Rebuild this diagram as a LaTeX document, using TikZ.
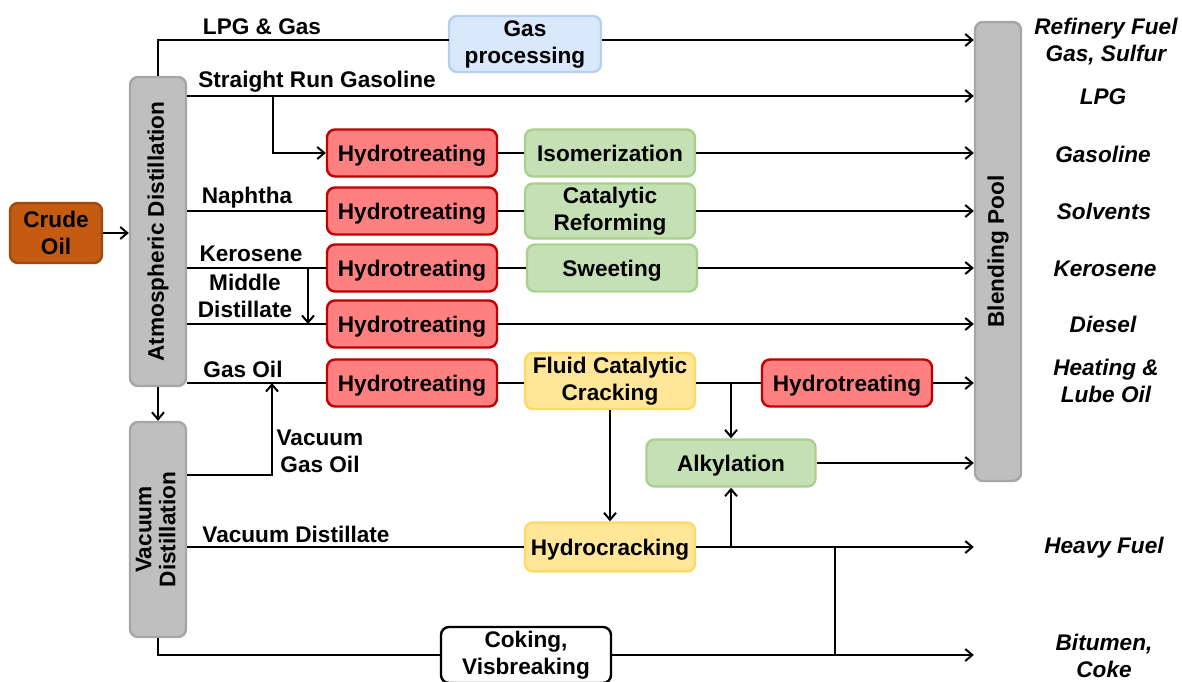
\documentclass[tikz,border=0pt]{standalone}
\usepackage{fontspec}
\setmainfont{Liberation Sans}
\usetikzlibrary{arrows.meta}
\definecolor{crudeF}{HTML}{C55A11}
\definecolor{crudeD}{HTML}{9C4A12}
\definecolor{grayF}{HTML}{BFBFBF}
\definecolor{grayD}{HTML}{A6A6A6}
\definecolor{blueF}{HTML}{DAE8FC}
\definecolor{blueD}{HTML}{B7D0EE}
\definecolor{redF}{HTML}{FF8080}
\definecolor{redD}{HTML}{C00000}
\definecolor{greenF}{HTML}{C5E0B4}
\definecolor{greenD}{HTML}{A9D18E}
\definecolor{yelF}{HTML}{FFE699}
\definecolor{yelD}{HTML}{FFD966}
\tikzset{
  base/.style={font=\fontsize{11.3}{13.5}\selectfont\bfseries, align=center, inner sep=0pt},
  box/.style={base, rounded corners=4pt, line width=1.2pt, minimum width=85pt, minimum height=23.5pt},
  oneline/.style={text height=8.1pt, text depth=0pt},
  crudebox/.style={box, fill=crudeF, draw=crudeD, minimum width=46pt, minimum height=30pt},
  column/.style={box, fill=grayF, draw=grayD, minimum width=28pt},
  gasbox/.style={box, fill=blueF, draw=blueD, minimum width=76pt, minimum height=28pt},
  htbox/.style={box, oneline, fill=redF, draw=redD},
  grbox/.style={box, fill=greenF, draw=greenD},
  ylbox/.style={box, fill=yelF, draw=yelD},
  wbox/.style={box, fill=white, draw=black},
  lbl/.style={base},
  prod/.style={base, font=\fontsize{11.3}{13.5}\selectfont\bfseries\itshape},
  flow/.style={line width=1pt, draw=black},
  arr/.style={flow, -{Straight Barb[length=3.5pt,width=6pt,line width=1pt]}}
}
\begin{document}
\begin{tikzpicture}[x=0.5pt,y=-0.5pt]
\useasboundingbox (0,0) rectangle (1182,681);
% units: 1 = 1 px of the reference
\node[crudebox] (crude) at (56,233) {Crude\\Oil};
\node[column, minimum height=154.5pt] (atm) at (158,231.5) {\rotatebox{90}{Atmospheric Distillation}};
\node[column, minimum height=107.5pt] (vac) at (158,529.5) {\rotatebox{90}{\begin{tabular}{@{}c@{}}Vacuum\\[-1.5pt]Distillation\end{tabular}}};
\node[column, minimum width=23pt, minimum height=229.5pt] (bp) at (998,251.5) {\rotatebox{90}{Blending Pool}};
\node[gasbox] (gasp) at (525,44) {Gas\\processing};

\node[htbox] (ht1) at (412,153) {Hydrotreating};
\node[htbox] (ht2) at (412,211) {Hydrotreating};
\node[htbox] (ht3) at (412,268) {Hydrotreating};
\node[htbox] (ht4) at (412,324) {Hydrotreating};
\node[htbox] (ht5) at (412,383) {Hydrotreating};
\node[grbox, oneline] (iso) at (610,153) {Isomerization};
\node[grbox, minimum height=27.5pt] (catref) at (610,211) {Catalytic\\Reforming};
\node[grbox, oneline] (sweet) at (612,268) {Sweeting};
\node[ylbox, minimum height=28pt] (fcc) at (610,381) {Fluid Catalytic\\Cracking};
\node[htbox] (ht6) at (847,383) {Hydrotreating};
\node[grbox, oneline, minimum width=84.5pt] (alky) at (731,463) {Alkylation};
\node[ylbox, oneline, minimum height=24.5pt] (hcrack) at (610,547) {Hydrocracking};
\node[wbox, minimum height=28pt] (coke) at (526,655) {Coking,\\Visbreaking};

% stream labels
\node[lbl] (lLPG) at (262,27) {LPG \& Gas};
\node[lbl] (lSRG) at (317,82) {Straight Run Gasoline};
\node[lbl] (lNap) at (247,198) {Naphtha};
\node[lbl] (lKer) at (251,254) {Kerosene};
\node[lbl] (lMD) at (245,296) {Middle\\Distillate};
\node[lbl] (lGO) at (243,369) {Gas Oil};
\node[lbl] (lVGO) at (320,451) {Vacuum\\Gas Oil};
\node[lbl] (lVD) at (296,534) {Vacuum Distillate};

% products
\node[prod] (pRF) at (1106,42) {Refinery Fuel\\Gas, Sulfur};
\node[prod] (pLPG) at (1103,97) {LPG};
\node[prod] (pGas) at (1103,154) {Gasoline};
\node[prod] (pSol) at (1104,211) {Solvents};
\node[prod] (pKer) at (1105,269) {Kerosene};
\node[prod] (pDie) at (1103,324) {Diesel};
\node[prod] (pHeat) at (1106,381) {Heating \&\\Lube Oil};
\node[prod] (pHF) at (1104,548) {Heavy Fuel};
\node[prod] (pBit) at (1104,656) {Bitumen,\\Coke};

% junction coordinates
\coordinate (yS) at (273,96);
\coordinate (kb) at (308,268);
\coordinate (vg) at (272,475);
\coordinate (j1) at (835,547);
\coordinate (j2) at (835,655);
\coordinate (gl) at (449,40);

% connectors
\draw[arr] (crude.east) -- (crude.east -| atm.west);
\draw[arr] (atm.south) -- (vac.north);
\draw[flow] (atm.north) |- (gl);
\draw[arr] (gasp.east |- gl) -- (gl -| bp.west);
\draw[arr] (atm.east |- yS) -- (yS -| bp.west);
\draw[arr] (yS) |- (ht1.west);
\draw[flow] (ht1.east) -- (iso.west);
\draw[arr] (iso.east) -- (iso.east -| bp.west);
\draw[flow] (atm.east |- ht2.west) -- (ht2.west);
\draw[flow] (ht2.east) -- (catref.west);
\draw[arr] (catref.east) -- (catref.east -| bp.west);
\draw[flow] (atm.east |- ht3.west) -- (ht3.west);
\draw[arr] (kb) -- (kb |- ht4.west);
\draw[flow] (ht3.east) -- (sweet.west);
\draw[arr] (sweet.east) -- (sweet.east -| bp.west);
\draw[flow] (atm.east |- ht4.west) -- (ht4.west);
\draw[arr] (ht4.east) -- (ht4.east -| bp.west);
\draw[flow] (atm.east |- ht5.west) -- (ht5.west);
\draw[arr] (vac.east |- vg) -- (vg) -- (vg |- ht5.west);
\draw[flow] (ht5.east) -- (fcc.west |- ht5.east);
\draw[flow] (fcc.east |- ht6.west) -- (ht6.west);
\draw[arr] (ht6.east) -- (ht6.east -| bp.west);
\draw[arr] (alky.north |- ht6.west) -- (alky.north);
\draw[arr] (fcc.south) -- (hcrack.north);
\draw[arr] (alky.east) -- (alky.east -| bp.west);
\draw[flow] (vac.east |- hcrack.west) -- (hcrack.west);
\draw[arr] (hcrack.east) -- (hcrack.east -| bp.west);
\draw[arr] (alky.south |- hcrack.east) -- (alky.south);
\draw[flow] (vac.south) |- (coke.west);
\draw[arr] (coke.east) -- (coke.east -| bp.west);
\draw[flow] (j1) -- (j2);
\end{tikzpicture}
\end{document}
